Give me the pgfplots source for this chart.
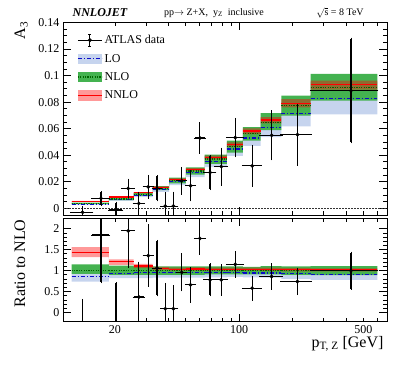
\documentclass[border=0pt]{standalone}
\usepackage{fontspec}
\setmainfont{Liberation Serif}
\usepackage{pgfplots}
\pgfplotsset{compat=1.18}
\usepackage{pgfplotstable}
\usepgfplotslibrary{fillbetween}

\definecolor{lob}{RGB}{198,212,238}
\definecolor{nlob}{RGB}{68,178,80}
\definecolor{nlol}{RGB}{0,100,0}
\definecolor{lol}{RGB}{10,10,200}

\pgfplotstableread{
x     lo     lolo   lohi   nlo    nlolo  nlohi  nnlo   nnlolo nnlohi
11.4  0.0032 0.0027 0.0037 0.0037 0.0033 0.0043 0.0052 0.0048 0.0057
18.5  0.0066 0.0057 0.0073 0.0070 0.0062 0.0078 0.0085 0.0080 0.0090
25.5  0.0099 0.0085 0.0110 0.0105 0.0094 0.0116 0.0117 0.0112 0.0122
32.6  0.0143 0.0125 0.0160 0.0152 0.0137 0.0167 0.0160 0.0154 0.0166
40.4  0.0201 0.0175 0.0225 0.0210 0.0189 0.0231 0.0217 0.0209 0.0225
50.2  0.0269 0.0235 0.0300 0.0282 0.0255 0.0308 0.0293 0.0282 0.0304
63.9  0.0355 0.0310 0.0395 0.0370 0.0335 0.0405 0.0383 0.0369 0.0397
85.4  0.0447 0.0395 0.0500 0.0465 0.0420 0.0510 0.0480 0.0463 0.0497
105   0.0530 0.0470 0.0595 0.0562 0.0510 0.0612 0.0582 0.0560 0.0603
132   0.0608 0.0537 0.0680 0.0645 0.0590 0.0717 0.0665 0.0640 0.0688
173   0.0713 0.0617 0.0800 0.0773 0.0698 0.0850 0.0792 0.0760 0.0822
253   0.0830 0.0707 0.0950 0.0912 0.0812 0.1013 0.0930 0.0895 0.0962
600   0.0830 0.0707 0.0950 0.0912 0.0812 0.1013 0.0930 0.0895 0.0962
}\theoryA

\pgfplotstableread{
x     lo    lolo  lohi  nlo  nlolo nlohi nnlo  nnlolo nnlohi
11.4  0.86  0.74  0.92  1.0  0.92  1.15  1.43  1.32   1.56
18.5  0.94  0.82  0.99  1.0  0.90  1.12  1.21  1.14   1.27
25.5  0.95  0.82  1.05  1.0  0.90  1.10  1.11  1.06   1.16
32.6  0.95  0.83  1.06  1.0  0.90  1.10  1.05  1.01   1.09
40.4  0.955 0.83  1.07  1.0  0.90  1.10  1.035 1.00   1.07
50.2  0.95  0.83  1.07  1.0  0.90  1.10  1.04  1.00   1.08
63.9  0.955 0.84  1.07  1.0  0.91  1.10  1.035 1.00   1.07
85.4  0.96  0.85  1.07  1.0  0.91  1.10  1.03  1.00   1.07
105   0.945 0.84  1.06  1.0  0.91  1.09  1.035 1.00   1.07
132   0.945 0.83  1.06  1.0  0.91  1.11  1.03  0.99   1.07
173   0.925 0.80  1.04  1.0  0.90  1.10  1.025 0.985  1.065
253   0.91  0.78  1.04  1.0  0.89  1.11  1.02  0.98   1.055
600   0.91  0.78  1.04  1.0  0.89  1.11  1.02  0.98   1.055
}\theoryR

\pgfplotstableread{
x      xe     y       ye      r      re
13.15  1.75   -0.0030 0.0038  -0.75  1.05
16.7   1.8    0.0075  0.0046  1.85   1.13
20.25  1.75   -0.0013 0.0055  -0.30  1.00
23.75  1.75   0.0150  0.0065  1.95   0.85
27.25  1.75   0.0037  0.0080  0.37   0.82
30.8   1.8    0.0162  0.0082  1.36   0.72
34.5   1.9    0.0150  0.0090  1.06   0.65
38.4   2.0    0.0017  0.0095  0.09   0.59
42.65  2.25   0.0017  0.0100  0.09   0.53
47.55  2.65   0.0207  0.0098  0.96   0.43
53.3   3.1    0.0170  0.0110  0.66   0.40
60.15  3.75   0.0530  0.0112  1.77   0.36
68.65  4.75   0.0270  0.0125  0.78   0.37
79.4   6.0    0.0315  0.0135  0.78   0.35
95.2   9.8    0.0533  0.0140  1.15   0.29
118.5  13.5   0.0320  0.0150  0.58   0.27
152.5  20.5   0.0550  0.0180  0.86   0.29
213    40     0.0555  0.0225  0.74   0.30
426.5  173.5  0.0887  0.0390  1.00   0.43
}\data

\begin{document}
\begin{tikzpicture}
\path (0,0) rectangle (407bp,365bp);

\begin{axis}[
  scale only axis, width=324bp,
  xmode=log, xmin=10.2, xmax=680,
  xtick={100}, extra x ticks={20,500},
  extra x tick style={major tick length=4bp},
  minor xtick={20,30,40,50,60,70,80,90,200,300,400,500,600},
  tick align=inside, major tick length=8bp, minor tick length=4bp,
  tick style={black, line width=0.8bp},
  axis line style={line width=0.9bp},
  ticklabel style={font=\fontsize{12bp}{14bp}\selectfont},
  scaled y ticks=false,
  at={(63bp,150bp)}, anchor=south west, height=192.5bp,
  ymin=-0.005, ymax=0.14,
  xticklabels={}, extra x tick labels={},
  ytick={0,0.02,0.04,0.06,0.08,0.1,0.12,0.14},
  yticklabels={0,0.02,0.04,0.06,0.08,0.1,0.12,0.14},
  minor y tick num=3,
  legend style={at={(rel axis cs:0.043,0.945)}, anchor=north west, draw=none, fill=none,
    font=\fontsize{12bp}{14bp}\selectfont, row sep=5bp, inner sep=0pt,
    /tikz/every even column/.style={column sep=5bp}},
  legend cell align=left,
]
\addlegendimage{legend image code/.code={
  \draw[black,line width=1.2bp] (0bp,0bp)--(24bp,0bp) (12bp,-6bp)--(12bp,6bp) (10.5bp,-6bp)--(13.5bp,-6bp) (10.5bp,6bp)--(13.5bp,6bp);
  \fill[black] (12bp,0bp) circle (1.8bp);}}
\addlegendimage{legend image code/.code={
  \fill[lob, draw=none] (0bp,-5.2bp) rectangle (24bp,5.2bp);
  \draw[lol,line width=1.2bp,dash pattern=on 4bp off 2bp on 1bp off 2bp] (0bp,0bp)--(24bp,0bp);}}
\addlegendimage{legend image code/.code={
  \fill[nlob, draw=none] (0bp,-5.2bp) rectangle (24bp,5.2bp);
  \draw[nlol,line width=1.5bp,dash pattern=on 1.2bp off 1.2bp] (0bp,0bp)--(24bp,0bp);}}
\addlegendimage{legend image code/.code={
  \fill[red!40, draw=none] (0bp,-5.2bp) rectangle (24bp,5.2bp);
  \draw[red,line width=1.2bp] (0bp,0bp)--(24bp,0bp);}}
\legend{ATLAS data, LO, NLO, NNLO}

\addplot[forget plot, black!80, line width=1bp, dash pattern=on 1.5bp off 1.5bp] coordinates {(10.2,0) (680,0)};

\addplot[forget plot, draw=none, const plot mark left, name path=lohiA] table[x=x,y=lohi] {\theoryA};
\addplot[forget plot, draw=none, const plot mark left, name path=loloA] table[x=x,y=lolo] {\theoryA};
\addplot[forget plot, fill=lob, draw=none] fill between[of=lohiA and loloA];
\addplot[forget plot, draw=none, const plot mark left, name path=nlohiA] table[x=x,y=nlohi] {\theoryA};
\addplot[forget plot, draw=none, const plot mark left, name path=nloloA] table[x=x,y=nlolo] {\theoryA};
\addplot[forget plot, fill=nlob, draw=none] fill between[of=nlohiA and nloloA];
\addplot[forget plot, draw=none, const plot mark left, name path=nnlohiA] table[x=x,y=nnlohi] {\theoryA};
\addplot[forget plot, draw=none, const plot mark left, name path=nnloloA] table[x=x,y=nnlolo] {\theoryA};
\addplot[forget plot, fill=red, fill opacity=0.4, draw=none] fill between[of=nnlohiA and nnloloA];

\addplot[forget plot, jump mark left, lol, line width=1.2bp, dash pattern=on 4bp off 2bp on 1bp off 2bp] table[x=x,y=lo] {\theoryA};
\addplot[forget plot, jump mark left, nlol, line width=1.5bp, dash pattern=on 1.2bp off 1.2bp] table[x=x,y=nlo] {\theoryA};
\addplot[forget plot, jump mark left, red, line width=1.2bp] table[x=x,y=nnlo] {\theoryA};

\addplot[forget plot, only marks, mark=*, mark size=1.7bp, black,
  error bars/x dir=both, error bars/x explicit, error bars/y dir=both, error bars/y explicit,
  error bars/error bar style={line width=1.2bp, black},
  error bars/error mark=-, error bars/error mark options={black, mark size=1.1bp, line width=0.8bp}]
  table[x=x,y=y,x error=xe,y error=ye] {\data};
\end{axis}

\begin{axis}[
  scale only axis, width=324bp,
  xmode=log, xmin=10.2, xmax=680,
  xtick={100}, extra x ticks={20,500},
  extra x tick style={major tick length=4bp},
  minor xtick={20,30,40,50,60,70,80,90,200,300,400,500,600},
  tick align=inside, major tick length=8bp, minor tick length=4bp,
  tick style={black, line width=0.8bp},
  axis line style={line width=0.9bp},
  ticklabel style={font=\fontsize{12bp}{14bp}\selectfont},
  at={(63bp,43.3bp)}, anchor=south west, height=103.4bp,
  ymin=-0.22, ymax=2.25,
  xticklabels={100}, extra x tick labels={20,500},
  ytick={0,0.5,1,1.5,2},
  yticklabels={0,0.5,1,1.5,2},
  minor y tick num=4,
]
\addplot[forget plot, draw=none, const plot mark left, name path=lohiR] table[x=x,y=lohi] {\theoryR};
\addplot[forget plot, draw=none, const plot mark left, name path=loloR] table[x=x,y=lolo] {\theoryR};
\addplot[forget plot, fill=lob, draw=none] fill between[of=lohiR and loloR];
\addplot[forget plot, draw=none, const plot mark left, name path=nlohiR] table[x=x,y=nlohi] {\theoryR};
\addplot[forget plot, draw=none, const plot mark left, name path=nloloR] table[x=x,y=nlolo] {\theoryR};
\addplot[forget plot, fill=nlob, draw=none] fill between[of=nlohiR and nloloR];
\addplot[forget plot, draw=none, const plot mark left, name path=nnlohiR] table[x=x,y=nnlohi] {\theoryR};
\addplot[forget plot, draw=none, const plot mark left, name path=nnloloR] table[x=x,y=nnlolo] {\theoryR};
\addplot[forget plot, fill=red, fill opacity=0.4, draw=none] fill between[of=nnlohiR and nnloloR];

\addplot[forget plot, jump mark left, lol, line width=1.2bp, dash pattern=on 4bp off 2bp on 1bp off 2bp] table[x=x,y=lo] {\theoryR};
\addplot[forget plot, jump mark left, nlol, line width=1.5bp, dash pattern=on 1.2bp off 1.2bp] table[x=x,y=nlo] {\theoryR};
\addplot[forget plot, jump mark left, red, line width=1.2bp] table[x=x,y=nnlo] {\theoryR};

\addplot[forget plot, only marks, mark=*, mark size=1.7bp, black,
  error bars/x dir=both, error bars/x explicit, error bars/y dir=both, error bars/y explicit,
  error bars/error bar style={line width=1.2bp, black},
  error bars/error mark=-, error bars/error mark options={black, mark size=1.1bp, line width=0.8bp}]
  table[x=x,y=r,x error=xe,y error=re] {\data};
\end{axis}

\node[font=\fontsize{12bp}{14bp}\selectfont\bfseries\itshape] at (100bp,352bp) {NNLOJET};
\node[font=\fontsize{10bp}{12bp}\selectfont] at (214bp,352bp) {pp$\rightarrow$ Z+X,\ \ y\textsubscript{Z}\ \ inclusive};
\node[font=\fontsize{10bp}{12bp}\selectfont] at (340bp,352bp) {$\sqrt{\mbox{s}}$ = 8 TeV};
\node[rotate=90, anchor=base east, font=\fontsize{16bp}{18bp}\selectfont] at (25bp,347bp) {A\textsubscript{3}};
\node[rotate=90, anchor=base east, font=\fontsize{16bp}{18bp}\selectfont] at (25bp,149bp) {Ratio to NLO};
\node[anchor=base east, font=\fontsize{16bp}{18bp}\selectfont] at (387bp,18bp) {p\textsubscript{T, Z} [GeV]};
\end{tikzpicture}
\end{document}
